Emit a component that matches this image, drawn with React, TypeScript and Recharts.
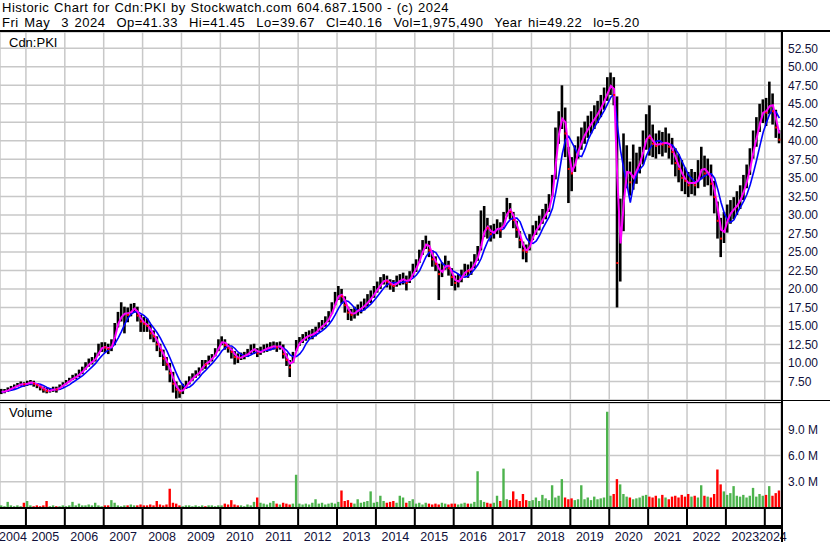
import React from "react";
import { ComposedChart, Bar, Line, Scatter, XAxis, YAxis, CartesianGrid, Cell } from "recharts";

// Monthly bars, May 2004 .. May 2024
const FIRST_YEAR = 2004;
const FIRST_MONTH = 5;

const closes: number[] = [
  6.1, 6.2, 6.4, 6.6, 6.8, 7.0, 7.2, 7.1, // 2004 May-Dec
  7.3, 7.4, 7.2, 7.0, 6.7, 6.4, 6.2, 6.3, 6.5, 6.4, 6.8, 7.1, // 2005
  7.4, 7.7, 8.0, 8.2, 8.6, 9.0, 9.6, 10.0, 10.3, 10.8, 11.8, 12.2, // 2006
  12.1, 11.9, 12.4, 14.6, 16.0, 16.4, 16.9, 16.5, 17.2, 17.5, 16.4, 15.6, // 2007
  15.3, 15.0, 14.0, 13.6, 12.5, 11.7, 10.6, 9.8, 8.6, 7.2, 6.4, 6.0, // 2008
  6.6, 7.1, 7.7, 8.1, 8.5, 8.8, 9.9, 9.8, 10.5, 10.7, 11.5, 12.5, // 2009
  13.1, 12.4, 12.0, 11.5, 10.8, 10.6, 10.9, 11.0, 11.3, 11.8, 11.9, 11.3, // 2010
  11.6, 11.9, 12.0, 12.2, 12.3, 12.1, 12.4, 11.2, 10.4, 9.4, 10.9, 12.5, // 2011
  12.9, 13.3, 13.6, 13.8, 13.9, 14.3, 14.8, 15.1, 15.6, 16.2, 17.3, 18.6, // 2012
  19.4, 19.0, 17.8, 16.8, 16.5, 16.9, 17.2, 17.5, 17.9, 18.4, 18.9, 19.6, // 2013
  20.2, 20.8, 21.3, 21.0, 20.6, 20.4, 21.0, 21.2, 21.4, 20.8, 21.6, 22.4, // 2014
  23.2, 24.4, 25.6, 26.4, 25.2, 24.0, 23.4, 22.0, 22.6, 23.5, 22.8, 21.6, // 2015
  20.8, 21.2, 21.8, 22.6, 22.4, 22.9, 23.8, 24.8, 26.8, 28.6, 28.2, 27.4, // 2016
  27.8, 28.4, 27.9, 29.2, 31.0, 30.4, 29.3, 28.0, 26.6, 25.2, 25.0, 26.4, // 2017
  27.6, 28.2, 28.9, 29.8, 30.4, 31.5, 33.8, 39.8, 42.0, 44.0, 41.0, 36.2, // 2018
  35.6, 38.0, 39.2, 40.4, 41.2, 42.0, 42.6, 43.3, 44.0, 44.9, 45.8, 47.0, // 2019
  47.8, 46.2, 23.5, 28.8, 34.6, 37.0, 34.4, 35.6, 36.4, 37.6, 39.4, 41.0, // 2020
  40.4, 39.6, 39.3, 39.8, 39.5, 40.0, 39.2, 38.5, 37.0, 36.2, 35.0, 34.6, // 2021
  34.0, 34.6, 34.0, 35.4, 36.8, 35.6, 35.8, 34.2, 32.4, 29.2, 26.8, 28.6, // 2022
  29.8, 30.6, 30.9, 31.6, 32.4, 33.8, 35.2, 37.4, 39.6, 41.2, 43.4, 44.2, // 2023
  43.8, 45.6, 44.0, 41.8, 40.16, // 2024 Jan-May
];

const highs: number[] = [
  6.5, 6.5, 6.7, 6.9, 7.1, 7.3, 7.5, 7.4,
  7.6, 7.7, 7.6, 7.3, 7.1, 6.8, 6.6, 6.6, 6.8, 6.8, 7.1, 7.4,
  7.7, 8.0, 8.4, 8.6, 9.1, 9.5, 10.1, 10.6, 10.8, 11.4, 12.6, 12.8,
  12.8, 12.6, 13.2, 15.4, 16.9, 18.2, 17.6, 17.5, 18.0, 18.1, 17.6, 16.5,
  16.2, 16.0, 15.2, 14.4, 13.6, 12.6, 11.8, 10.8, 10.0, 8.8, 7.5, 7.0,
  7.2, 7.6, 8.2, 8.6, 9.0, 9.4, 10.4, 10.4, 11.0, 11.2, 12.0, 13.2,
  13.6, 13.2, 12.6, 12.1, 11.6, 11.3, 11.4, 11.5, 11.9, 12.5, 12.6, 12.0,
  12.2, 12.5, 12.6, 12.8, 12.9, 12.8, 12.9, 12.5, 11.3, 10.4, 11.5, 13.1,
  13.5, 13.9, 14.2, 14.4, 14.6, 14.9, 15.5, 15.8, 16.3, 17.0, 18.2, 19.6,
  20.4, 20.0, 19.0, 17.6, 17.3, 17.6, 17.9, 18.3, 18.7, 19.3, 19.8, 20.4,
  21.0, 21.6, 22.0, 21.8, 21.3, 21.2, 21.8, 22.0, 22.2, 21.8, 22.4, 23.4,
  24.0, 25.3, 26.6, 27.2, 26.5, 25.2, 24.4, 23.4, 23.6, 24.5, 23.8, 22.8,
  21.8, 22.0, 22.6, 23.4, 23.3, 23.7, 24.7, 25.8, 30.6, 31.2, 29.6, 28.6,
  28.8, 29.4, 29.0, 30.4, 32.3, 31.6, 30.4, 29.2, 27.8, 26.4, 26.0, 27.4,
  28.6, 29.2, 29.9, 30.8, 31.5, 32.8, 35.4, 41.8, 44.0, 47.5, 44.5, 39.2,
  37.8, 39.4, 40.6, 41.8, 42.6, 43.4, 44.0, 44.8, 45.4, 46.2, 47.2, 48.6,
  49.22, 48.6, 46.0, 32.2, 41.0, 39.4, 37.2, 39.5, 38.4, 39.2, 41.4, 43.6,
  44.8, 42.2, 41.0, 41.4, 41.2, 41.8, 41.0, 40.4, 39.0, 38.2, 37.4, 36.4,
  35.8, 36.2, 35.8, 37.4, 39.2, 38.0, 37.6, 36.8, 34.6, 31.8, 29.6, 30.4,
  31.4, 32.0, 32.4, 33.2, 34.0, 35.4, 36.8, 39.0, 41.4, 43.2, 45.0, 45.6,
  45.8, 48.0, 46.4, 44.2, 41.45,
];

const lows: number[] = [
  5.8, 5.9, 6.1, 6.3, 6.5, 6.8, 6.9, 6.8,
  6.9, 7.0, 6.8, 6.6, 6.3, 6.0, 5.9, 6.0, 6.1, 6.0, 6.4, 6.8,
  7.1, 7.4, 7.7, 7.8, 8.1, 8.5, 9.1, 9.5, 9.8, 10.2, 11.0, 11.5,
  11.4, 11.2, 11.6, 12.4, 14.8, 15.6, 14.0, 15.5, 16.3, 16.8, 15.6, 14.2,
  14.2, 14.2, 13.2, 12.8, 11.6, 10.8, 9.6, 9.0, 7.4, 6.0, 5.2, 5.3,
  5.8, 6.5, 7.1, 7.6, 8.0, 8.3, 9.0, 9.2, 9.8, 10.2, 10.9, 11.6,
  12.4, 11.8, 11.4, 10.6, 9.8, 10.0, 10.4, 10.5, 10.8, 11.2, 11.2, 10.8,
  11.1, 11.4, 11.5, 11.7, 11.8, 11.5, 11.8, 10.6, 9.6, 8.1, 10.0, 11.6,
  12.3, 12.7, 13.0, 13.2, 13.2, 13.6, 14.2, 14.5, 14.9, 15.5, 16.6, 17.8,
  18.5, 18.0, 16.8, 15.8, 15.7, 16.0, 16.4, 16.7, 17.1, 17.6, 18.1, 18.8,
  19.5, 20.0, 20.6, 20.2, 19.9, 19.6, 20.3, 20.5, 20.6, 19.8, 20.8, 21.6,
  22.3, 23.5, 24.6, 25.4, 24.3, 23.0, 22.4, 18.5, 21.6, 22.6, 21.8, 20.4,
  19.8, 20.2, 20.9, 21.8, 21.5, 21.9, 22.8, 23.8, 25.2, 27.0, 26.8, 26.4,
  26.8, 27.4, 26.9, 28.2, 29.8, 29.4, 28.2, 26.9, 25.5, 24.0, 23.6, 25.2,
  26.6, 27.3, 27.9, 28.8, 29.4, 30.4, 32.4, 34.8, 39.6, 41.6, 37.8, 31.6,
  33.2, 35.8, 37.6, 38.8, 39.6, 40.4, 41.0, 41.6, 42.4, 43.2, 44.2, 45.4,
  46.2, 44.8, 17.5, 21.0, 27.8, 33.6, 32.6, 33.4, 34.2, 35.6, 36.8, 38.8,
  38.0, 37.8, 37.6, 38.2, 37.9, 38.4, 37.6, 36.8, 35.2, 34.4, 33.2, 32.8,
  32.4, 32.8, 32.6, 33.6, 34.8, 33.8, 34.0, 32.6, 30.2, 26.8, 24.3, 26.2,
  27.6, 28.8, 29.4, 30.0, 30.8, 32.0, 33.6, 35.4, 37.6, 39.2, 41.2, 42.4,
  42.0, 43.6, 42.2, 40.4, 39.67,
];

// volume, millions of shares
const volumes: number[] = [
  0.3, 0.2, 0.7, 0.3, 0.2, 0.3, 0.2, 0.6,
  0.8, 0.3, 0.2, 0.3, 0.2, 0.3, 0.8, 0.2, 0.3, 0.2, 0.2, 0.3,
  0.2, 0.3, 0.7, 0.3, 0.5, 0.3, 0.3, 0.4, 0.3, 0.6, 0.3, 0.2,
  0.3, 0.3, 0.9, 0.6, 0.3, 0.2, 0.3, 0.3, 0.4, 0.3, 0.3, 0.4,
  0.3, 0.3, 0.4, 0.3, 0.8, 0.4, 0.3, 0.4, 2.2, 0.6, 0.5, 0.3,
  0.2, 0.3, 0.3, 0.2, 0.3, 0.2, 0.3, 0.2, 0.3, 0.3, 0.2, 0.3,
  0.3, 0.5, 0.4, 0.9, 0.4, 0.3, 0.3, 0.2, 0.4, 0.3, 0.7, 1.2,
  0.6, 0.5, 0.4, 0.6, 0.8, 0.5, 0.4, 0.6, 0.5, 0.4, 0.5, 3.8,
  0.5, 0.4, 0.5, 0.4, 0.6, 1.0, 0.5, 0.6, 0.4, 0.5, 0.6, 0.5,
  0.7, 2.0, 0.8, 0.9, 0.6, 0.5, 1.0, 0.6, 0.7, 0.8, 1.9, 0.6,
  0.7, 1.4, 0.8, 0.6, 0.7, 0.8, 0.6, 1.4, 1.2, 0.6, 0.8, 1.0,
  0.5, 0.6, 0.4, 0.6, 0.5, 0.4, 0.5, 0.4, 0.6, 0.5, 0.4, 0.5,
  0.5, 0.4, 0.5, 0.6, 0.5, 0.5, 0.7, 4.2, 0.9, 0.7, 0.6, 0.5,
  0.6, 1.4, 0.8, 4.5, 1.0, 0.9, 1.9, 1.0, 0.8, 1.6, 0.9, 0.8,
  0.9, 1.2, 0.8, 1.5, 1.1, 0.9, 2.6, 1.2, 1.4, 3.3, 1.2, 1.0,
  1.1, 0.9, 1.0, 2.6, 1.0, 1.2, 0.9, 1.3, 1.0, 1.1, 1.2, 11.0,
  1.4, 1.6, 3.3, 2.7, 1.6, 1.3, 1.2, 1.0, 1.1, 1.2, 1.4, 1.5,
  1.3, 1.2, 1.4, 1.1, 1.5, 1.2, 1.0, 1.3, 1.4, 1.2, 1.5, 1.3,
  1.6, 1.3, 1.4, 1.2, 2.6, 1.4, 1.3, 1.2, 1.6, 4.4, 2.7, 1.9,
  1.5, 1.7, 2.5, 1.4, 1.3, 1.5, 1.2, 1.4, 2.3, 1.3, 1.6, 1.4,
  1.5, 2.5, 1.4, 1.7, 2.0,
];

const priceTicks = [7.5, 10, 12.5, 15, 17.5, 20, 22.5, 25, 27.5, 30, 32.5, 35, 37.5, 40, 42.5, 45, 47.5, 50, 52.5];
const volumeTicks = [3, 6, 9];
const yearTicks = [2005, 2006, 2007, 2008, 2009, 2010, 2011, 2012, 2013, 2014, 2015, 2016, 2017, 2018, 2019, 2020, 2021, 2022, 2023, 2024];
const yearLabels = [2004, ...yearTicks];

const FAST_MA = 2;
const SLOW_MA = 5;

const T0 = FIRST_YEAR + (FIRST_MONTH - 1) / 12;
const T1 = T0 + closes.length / 12;

const sma = (arr: number[], n: number) =>
  arr.map((_, i) => {
    const s = arr.slice(Math.max(0, i - n + 1), i + 1);
    return s.reduce((a, b) => a + b, 0) / s.length;
  });

const fast = sma(closes, FAST_MA);
const slow = sma(closes, SLOW_MA);

const data = closes.map((c, i) => {
  const up = i === 0 ? true : c >= closes[i - 1];
  return {
    t: T0 + (i + 0.5) / 12,
    range: [lows[i], highs[i]],
    close: c,
    downClose: up ? null : c,
    fast: fast[i],
    slow: slow[i],
    vol: volumes[i],
    up,
  };
});

const labelPositions = yearLabels.map((y) => (Math.max(y, T0) + Math.min(y + 1, T1)) / 2);

const FONT = "'Liberation Sans', Arial, Helvetica, sans-serif";
const TICK_COLOR = "#10103a";
const GRID = "#c8c8c8";
const RED = "#ff0000";
const GREEN = "#4db34d";

const W = 830;
const AXIS_W = 49;

const CloseMark = (props: any) => {
  const { cx, cy } = props;
  if (cx == null || cy == null || isNaN(cy)) return null;
  return <rect x={cx - 1} y={cy - 1} width={2} height={2} fill={RED} />;
};

export default function App() {
  return (
    <div
      style={{
        position: "absolute",
        left: 0,
        top: 0,
        width: W,
        height: 543,
        background: "#fff",
        overflow: "hidden",
        fontFamily: FONT,
      }}
    >
      <div style={{ position: "absolute", left: 2, top: 0, fontSize: 13, lineHeight: "15px", color: "#000", whiteSpace: "pre", letterSpacing: 0.5, wordSpacing: 0.6 }}>
        Historic Chart for Cdn:PKI by Stockwatch.com 604.687.1500 - (c) 2024
      </div>
      <div style={{ position: "absolute", left: 2, top: 15, fontSize: 13, lineHeight: "15px", color: "#000", whiteSpace: "pre", letterSpacing: 0.5, wordSpacing: 1.4 }}>
        {"Fri May  3 2024  Op=41.33  Hi=41.45  Lo=39.67  Cl=40.16  Vol=1,975,490  Year hi=49.22  lo=5.20"}
      </div>
      <div style={{ position: "absolute", left: 0, top: 30, width: W, height: 2, background: "#000" }} />

      <div style={{ position: "absolute", left: 0, top: 32 }}>
        <ComposedChart width={W} height={368} data={data} margin={{ top: 0, right: 0, bottom: 0, left: 0 }}>
          <CartesianGrid stroke={GRID} strokeWidth={1.5} />
          <XAxis type="number" dataKey="t" domain={[T0, T1]} ticks={yearTicks} allowDataOverflow hide />
          <YAxis
            orientation="right"
            width={AXIS_W}
            domain={[5, 54.7]}
            ticks={priceTicks}
            allowDataOverflow
            interval={0}
            axisLine={false}
            tickLine={false}
            tickSize={5}
            tickMargin={2}
            tick={{ fill: TICK_COLOR, fontSize: 12, fontFamily: FONT }}
            tickFormatter={(v: number) => v.toFixed(2)}
          />
          <Bar dataKey="range" fill="#000" barSize={2.6} isAnimationActive={false} />
          <Scatter dataKey="downClose" shape={<CloseMark />} isAnimationActive={false} />
          <Line dataKey="slow" stroke="#0000ff" strokeWidth={1.6} dot={false} isAnimationActive={false} />
          <Line dataKey="fast" stroke="#ff00ff" strokeWidth={2} dot={false} isAnimationActive={false} />
        </ComposedChart>
      </div>
      <div style={{ position: "absolute", left: 9, top: 35, fontSize: 13, lineHeight: "15px", color: "#000" }}>Cdn:PKI</div>

      <div style={{ position: "absolute", left: 0, top: 400, width: W, height: 1, background: "#000" }} />
      <div style={{ position: "absolute", left: 0, top: 402, width: 782, height: 1, background: "#000" }} />

      <div style={{ position: "absolute", left: 0, top: 403 }}>
        <ComposedChart width={W} height={140} data={data} margin={{ top: 0, right: 0, bottom: 0, left: 0 }}>
          <CartesianGrid stroke={GRID} strokeWidth={1.5} />
          <XAxis
            xAxisId={0}
            type="number"
            dataKey="t"
            domain={[T0, T1]}
            ticks={yearTicks}
            allowDataOverflow
            interval={0}
            height={18}
            tickSize={18}
            axisLine={{ stroke: "#000", strokeWidth: 2 }}
            tickLine={{ stroke: "#000", strokeWidth: 2 }}
            tickFormatter={() => ""}
          />
          <XAxis
            xAxisId="labels"
            type="number"
            dataKey="t"
            domain={[T0, T1]}
            ticks={labelPositions}
            allowDataOverflow
            interval={0}
            height={15}
            tickSize={0}
            tickMargin={4}
            axisLine={{ stroke: "#000", strokeWidth: 2 }}
            tickLine={false}
            tick={{ fill: TICK_COLOR, fontSize: 12.5, fontFamily: FONT }}
            tickFormatter={(v: number) => String(Math.floor(v))}
          />
          <XAxis
            xAxisId="bottom"
            type="number"
            dataKey="t"
            domain={[T0, T1]}
            ticks={[]}
            allowDataOverflow
            height={2}
            axisLine={{ stroke: "#000", strokeWidth: 2 }}
            tickLine={false}
            tick={false}
          />
          <YAxis
            orientation="right"
            width={AXIS_W}
            domain={[0, 12]}
            ticks={volumeTicks}
            allowDataOverflow
            interval={0}
            axisLine={false}
            tickLine={false}
            tickSize={5}
            tickMargin={2}
            tick={{ fill: TICK_COLOR, fontSize: 12, fontFamily: FONT }}
            tickFormatter={(v: number) => `${v.toFixed(1)} M`}
          />
          <Bar dataKey="vol" barSize={2.4} isAnimationActive={false}>
            {data.map((d, i) => (
              <Cell key={i} fill={d.up ? GREEN : RED} />
            ))}
          </Bar>
        </ComposedChart>
      </div>
      <div style={{ position: "absolute", left: 9, top: 405, fontSize: 13, lineHeight: "15px", color: "#000" }}>Volume</div>

      <div style={{ position: "absolute", left: 781, top: 30, width: 2, height: 512, background: "#000" }} />
    </div>
  );
}
